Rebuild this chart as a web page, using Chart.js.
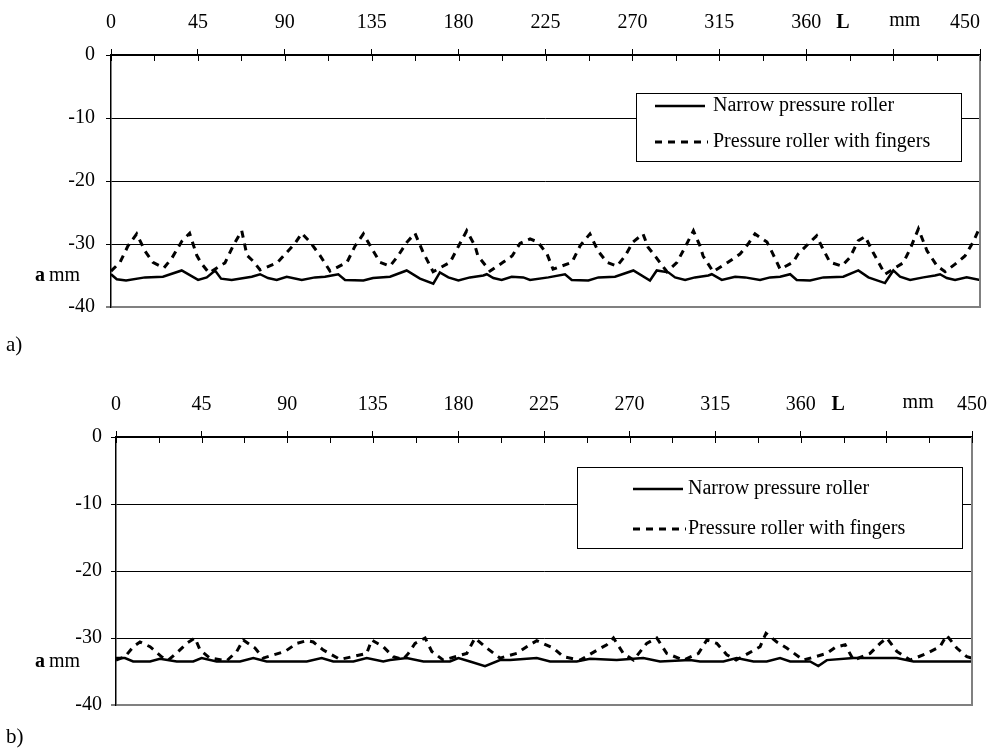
<!DOCTYPE html>
<html>
<head>
<meta charset="utf-8">
<script src="https://cdn.jsdelivr.net/npm/chart.js@4.4.1/dist/chart.umd.min.js"></script>
<style>
  body { margin: 0; background: #fff; }
  canvas { position: absolute; left: 0; }
  #chartA { top: 0; }
  #chartB { top: 365px; }
</style>
</head>
<body>
<canvas id="chartA" width="999" height="365"></canvas>
<canvas id="chartB" width="999" height="384"></canvas>
<script>
// tick values of both panels
const xTicks = [0, 45, 90, 135, 180, 225, 270, 315, 360, 405, 450];
const yTicks = [0, -10, -20, -30, -40];
const seriesNames = ["Narrow pressure roller", "Pressure roller with fingers"];

// a) L in mm, a in mm
const aNarrowL = [0, 3, 7.8, 17.6, 26.9, 36.6, 45.1, 49.6, 53.9, 57, 62.5, 72.9, 77.2, 81.3, 85.8, 91, 98.8, 105.6, 110.8, 114.3,
  117.7, 121.2, 130.7, 135.7, 144.5, 153.1, 160, 166.9, 170.3, 174.7, 179.9, 185.9, 192.8, 194.6, 198, 202.3, 207.5, 213.5, 217, 226.5,
  235.1, 238.6, 247.2, 252.4, 261, 270.5, 279.1, 282.6, 288.6, 292.1, 297.3, 302.4, 309.3, 311.1, 316.3, 323.2, 328.3, 336.1, 341.3, 346.5,
  351.7, 355.1, 362, 368.9, 379.2, 387, 392.2, 400.8, 405.1, 408.6, 413.8, 420.7, 426.7, 429.3, 432.8, 437.1, 443.1, 450];
const aNarrowVal = [-34.8, -35.6, -35.8, -35.3, -35.2, -34.2, -35.7, -35.3, -34.2, -35.5, -35.7, -35.2, -34.8, -35.4, -35.7, -35.2, -35.7, -35.3, -35.2, -35.0,
  -34.8, -35.7, -35.8, -35.4, -35.2, -34.2, -35.5, -36.3, -34.5, -35.3, -35.8, -35.3, -35.0, -34.8, -35.4, -35.7, -35.2, -35.3, -35.7, -35.3,
  -34.8, -35.7, -35.8, -35.3, -35.2, -34.2, -35.8, -34.2, -34.5, -35.3, -35.7, -35.3, -35.0, -34.8, -35.7, -35.2, -35.3, -35.7, -35.3, -35.2,
  -34.8, -35.7, -35.8, -35.3, -35.2, -34.2, -35.3, -36.2, -34.2, -35.2, -35.7, -35.3, -35.0, -34.8, -35.4, -35.7, -35.3, -35.7];
const aFingersL = [0, 4.7, 8.8, 13.3, 17.6, 21.7, 27.4, 31.6, 36.8, 40.7, 44.4, 46.6, 50.8, 59, 63.2, 67.7, 70.4, 73.5, 77.2, 86,
  91.1, 95.3, 98.8, 103.1, 108.2, 113.4, 122.2, 126.4, 130.7, 135.2, 139.3, 144.5, 148.6, 153.3, 157.4, 161.6, 166.8, 175.6, 179.7, 184.2,
  188.5, 190, 196.3, 203, 207.7, 211.8, 217, 221.1, 225.8, 228.9, 238.7, 242.9, 248, 252.2, 256.8, 262, 266.2, 270.3, 275.5, 278.1,
  281.7, 287.9, 293.1, 297.3, 301.6, 305, 306.6, 311.8, 319.5, 325.7, 329.9, 333.5, 339.7, 342.8, 346.5, 353.2, 355.8, 361, 365.4, 368.7,
  372.3, 378.5, 382.7, 386.9, 390.5, 394.6, 400.8, 410.2, 413.8, 418.1, 422.6, 427.8, 431.9, 437.1, 442.2, 446.4, 450];
const aFingersVal = [-34.3, -32.9, -30.3, -28.4, -31.1, -32.9, -33.8, -32.2, -29.5, -28.3, -31.8, -33.0, -34.6, -33.0, -30.3, -27.9, -31.8, -32.7, -34.1, -33.0,
  -31.3, -29.9, -28.3, -29.7, -31.8, -34.3, -32.9, -30.3, -28.4, -30.8, -32.9, -33.5, -31.9, -29.7, -28.3, -31.3, -34.4, -32.9, -30.5, -27.9,
  -30.3, -31.9, -34.3, -32.9, -31.9, -29.9, -29.2, -29.7, -31.6, -34.0, -32.9, -30.3, -28.4, -31.1, -32.9, -33.5, -31.9, -29.7, -28.4, -30.5,
  -31.9, -34.4, -32.9, -30.5, -27.9, -30.3, -31.9, -34.4, -32.9, -31.6, -30.0, -28.4, -29.7, -31.6, -34.0, -32.9, -31.6, -30.0, -28.7, -30.8,
  -32.9, -33.5, -32.1, -29.5, -28.8, -31.3, -34.8, -33.0, -30.8, -27.6, -31.1, -33.5, -34.4, -33.2, -31.9, -29.7, -27.3];

// b)
const bNarrowL = [0, 4.7, 9, 17.9, 23.1, 31.9, 40.6, 45, 52.9, 65.2, 72.2, 79.2, 100.3, 108.1, 114.2, 124.8, 131.8, 140.5, 144, 152.8,
  161.6, 175.6, 180, 186.1, 194, 201.9, 207.2, 221.2, 228.2, 242.2, 249.2, 263.2, 277.2, 286, 301.8, 307, 319.3, 326.3, 335.1, 342.1,
  349.1, 354.4, 364.9, 369.2, 373.7, 387.7, 410.5, 419.2, 450];
const bNarrowVal = [-33.0, -33.0, -33.5, -33.5, -33.1, -33.5, -33.5, -33.0, -33.5, -33.5, -33.0, -33.5, -33.5, -33.0, -33.5, -33.5, -33.0, -33.5, -33.3, -33.0,
  -33.5, -33.5, -33.0, -33.5, -34.2, -33.3, -33.3, -33.0, -33.5, -33.5, -33.1, -33.3, -33.0, -33.5, -33.3, -33.5, -33.5, -33.0, -33.5, -33.5,
  -33.0, -33.5, -33.5, -34.2, -33.3, -33.0, -33.0, -33.5, -33.5];
const bFingersL = [0, 4.7, 9.1, 12.6, 17.9, 24, 27.5, 32.8, 37.2, 41.5, 44.2, 49.4, 58.2, 63.5, 66.9, 73.1, 77.4, 88.9, 95, 100.3,
  103.7, 109, 117.8, 131.8, 134.4, 140.5, 145.8, 150.9, 153.7, 157.2, 162.5, 166, 172.1, 184.4, 188.7, 194.9, 201.9, 210.7, 215.9, 221.2,
  229.9, 235.2, 244, 251.8, 258, 261.5, 266.7, 272, 279, 284.3, 289.5, 298.3, 306.2, 310.6, 315.8, 321.1, 326, 332.4, 338.6, 341.7,
  347.4, 352.6, 361.4, 373.7, 378.1, 383.3, 387.7, 396.4, 401.7, 405.2, 410.5, 417.5, 426.2, 433.2, 436.7, 442, 447.3, 450];
const bFingersVal = [-33.3, -32.8, -31.3, -30.6, -31.3, -32.8, -33.3, -32.0, -30.8, -30.0, -31.8, -33.0, -33.4, -32.0, -30.3, -31.5, -33.0, -32.0, -30.8, -30.4,
  -30.6, -31.8, -33.2, -32.3, -30.3, -31.3, -32.8, -33.2, -32.3, -30.8, -30.0, -32.0, -33.3, -32.3, -30.0, -31.5, -33.0, -32.3, -31.3, -30.4,
  -31.5, -32.8, -33.3, -32.0, -31.0, -30.0, -32.3, -33.3, -30.8, -30.0, -32.3, -33.3, -32.3, -30.3, -30.8, -32.5, -33.3, -32.3, -31.3, -29.3,
  -30.6, -31.5, -33.3, -32.3, -31.4, -31.0, -33.3, -32.3, -30.8, -30.0, -32.0, -33.3, -32.3, -31.3, -29.6, -31.5, -32.8, -33.0];

const FONT = '"Liberation Serif", "Times New Roman", serif';
const FS = 20;

// frame, minor ticks, legend box and the loose labels
const decor = {
  id: "decor",
  afterDatasetsDraw(chart, args, o) {
    const ctx = chart.ctx;
    const area = chart.chartArea;
    const xs = chart.scales.x;
    const ys = chart.scales.y;
    ctx.save();

    ctx.strokeStyle = "#808080";
    ctx.lineWidth = 2;
    ctx.beginPath();
    ctx.moveTo(area.right, area.top);
    ctx.lineTo(area.right, area.bottom + 1);
    ctx.stroke();

    ctx.strokeStyle = "#000";
    ctx.lineWidth = 1;
    for (let v = 0; v <= 450; v += 22.5) {
      const px = Math.round(xs.getPixelForValue(v)) + 0.5;
      ctx.beginPath();
      ctx.moveTo(px, area.top);
      ctx.lineTo(px, area.top + 6);
      ctx.stroke();
    }

    // legend
    const b = o.box;
    ctx.fillStyle = "#fff";
    ctx.fillRect(b[0], b[1], b[2] - b[0], b[3] - b[1]);
    ctx.strokeStyle = "#000";
    ctx.lineWidth = 1;
    ctx.strokeRect(b[0] + 0.5, b[1] + 0.5, b[2] - b[0], b[3] - b[1]);
    ctx.lineWidth = 2.5;
    ctx.beginPath();
    ctx.moveTo(o.sample[0], o.rows[0]);
    ctx.lineTo(o.sample[1], o.rows[0]);
    ctx.stroke();
    ctx.lineWidth = 3;
    ctx.setLineDash([7, 6]);
    ctx.beginPath();
    ctx.moveTo(o.sample[0], o.rows[1]);
    ctx.lineTo(o.sample[1] + 3, o.rows[1]);
    ctx.stroke();
    ctx.setLineDash([]);
    ctx.fillStyle = "#000";
    ctx.font = FS + "px " + FONT;
    ctx.textBaseline = "middle";
    ctx.textAlign = "left";
    ctx.fillText(seriesNames[0], o.textX, o.rows[0]);
    ctx.fillText(seriesNames[1], o.textX, o.rows[1]);

    // axis names
    const ty = area.top - 32;
    ctx.textAlign = "center";
    ctx.font = "bold " + FS + "px " + FONT;
    ctx.fillText("L", xs.getPixelForValue(o.lAt), ty);
    ctx.font = FS + "px " + FONT;
    ctx.fillText("mm", xs.getPixelForValue(o.mmAt), ty - 2);

    const ay = ys.getPixelForValue(o.aAt);
    ctx.textAlign = "left";
    ctx.font = "bold " + FS + "px " + FONT;
    ctx.fillText("a", 35, ay);
    ctx.font = FS + "px " + FONT;
    ctx.fillText("mm", 49, ay);

    ctx.font = "21px " + FONT;
    ctx.fillText(o.tag, 6, o.tagY);
    ctx.restore();
  }
};

function buildChart(id, narrowL, narrowVal, fingL, fingVal, lay) {
  const toPts = (xsArr, ysArr) => xsArr.map((x, i) => ({ x: x, y: ysArr[i] }));
  return new Chart(document.getElementById(id), {
    type: "line",
    data: {
      datasets: [
        {
          label: seriesNames[0],
          data: toPts(narrowL, narrowVal),
          borderColor: "#000",
          borderWidth: 2.5,
          pointRadius: 0,
          fill: false,
          tension: 0,
        },
        {
          label: seriesNames[1],
          data: toPts(fingL, fingVal),
          borderColor: "#000",
          borderWidth: 3,
          borderDash: [7, 6],
          pointRadius: 0,
          fill: false,
          tension: 0,
        },
      ],
    },
    options: {
      responsive: false,
      animation: false,
      layout: { padding: { left: 0, top: 0, right: lay.padR, bottom: lay.padB } },
      scales: {
        x: {
          type: "linear",
          position: "top",
          min: 0,
          max: 450,
          afterBuildTicks: (s) => { s.ticks = xTicks.map((v) => ({ value: v })); },
          afterFit: (s) => { s.height = lay.axisH; s.paddingLeft = 0; s.paddingRight = 0; },
          ticks: {
            autoSkip: false,
            maxRotation: 0,
            color: "#000",
            padding: 14,
            font: { family: FONT, size: FS },
            callback: (v) => {
              if (v === 405) return "";
              if (v === 450 && lay.shift450) return "450      ";
              return String(v);
            },
          },
          grid: { drawOnChartArea: false, drawTicks: true, tickLength: 6, color: "#000" },
          border: { color: "#000", width: 1.5 },
        },
        y: {
          min: -40,
          max: 0,
          afterBuildTicks: (s) => { s.ticks = yTicks.map((v) => ({ value: v })); },
          afterFit: (s) => { s.width = lay.axisW; s.paddingTop = 0; s.paddingBottom = 0; },
          ticks: {
            color: "#000",
            padding: lay.yPad,
            font: { family: FONT, size: FS },
          },
          grid: {
            tickLength: 5,
            color: (c) => (c.tick && c.tick.value === -40 ? "#808080" : "#000"),
            lineWidth: (c) => (c.tick && c.tick.value === -40 ? 2 : 1),
          },
          border: { color: "#000", width: 1.5 },
        },
      },
      plugins: {
        legend: { display: false },
        tooltip: { enabled: false },
        decor: lay.decor,
      },
    },
    plugins: [decor],
  });
}

buildChart("chartA", aNarrowL, aNarrowVal, aFingersL, aFingersVal, {
  padR: 19, padB: 58, axisH: 55, axisW: 111, yPad: 11, shift450: true,
  decor: { box: [636, 93, 961, 161], rows: [106, 142], sample: [655, 705], textX: 713,
    lAt: 379, mmAt: 411, aAt: -35, tag: "a)", tagY: 345 },
});

buildChart("chartB", bNarrowL, bNarrowVal, bFingersL, bFingersVal, {
  padR: 27, padB: 44, axisH: 72, axisW: 116, yPad: 9, shift450: false,
  decor: { box: [577, 102, 962, 183], rows: [124, 164], sample: [633, 683], textX: 688,
    lAt: 379.6, mmAt: 421.7, aAt: -33.5, tag: "b)", tagY: 372 },
});
</script>
</body>
</html>
